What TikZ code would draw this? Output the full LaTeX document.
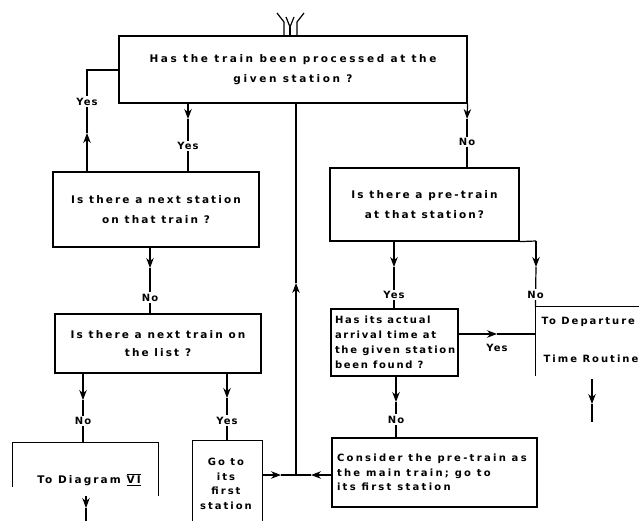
\documentclass[tikz,border=0pt]{standalone}
\usepackage{fontspec}
\setmainfont{DejaVu Sans}[LetterSpace=20]
\newfontfamily\tightfont{DejaVu Sans}[LetterSpace=10]
\newfontfamily\widefont{DejaVu Sans}[LetterSpace=25]
\newfontfamily\midfont{DejaVu Sans}[LetterSpace=17]
\newfontfamily\lwidefont{DejaVu Sans}[LetterSpace=23]
\usetikzlibrary{arrows.meta}
\begin{document}
\begin{tikzpicture}[x=1pt,y=-1pt,line width=1.2pt,
  box/.style={draw, rectangle, inner sep=0pt, align=center, font=\bfseries\fontsize{10.5}{20}\selectfont},
  lbox/.style={draw, rectangle, inner sep=0pt},
  open/.style={rectangle, inner sep=0pt},
  txt/.style={inner sep=0pt, font=\bfseries\fontsize{10.5}{15}\selectfont},
  lbl/.style={fill=white, inner sep=1.5pt, font=\tightfont\bfseries\fontsize{10}{10}\selectfont},
  arr/.style={-{Stealth[length=10pt,width=7.5pt]}}]
\useasboundingbox (0,0) rectangle (639,521);

% boxes
\node[box, minimum width=348pt, minimum height=67pt, font=\widefont\bfseries\fontsize{10.5}{20}\selectfont] (q1) at (293,69.5) {Has the train been processed at the\\given station ?};
\node[box, minimum width=206pt, minimum height=75pt] (q2) at (156,209.5) {Is there a next station\\on that train ?};
\node[box, minimum width=206pt, minimum height=59pt, font=\bfseries\fontsize{10.5}{18}\selectfont] (q3) at (158,343.5) {Is there a next train on\\the list ?};
\node[box, minimum width=189pt, minimum height=73pt] (q4) at (424.5,204.5) {Is there a pre-train\\at that station?};
\node[lbox, minimum width=127pt, minimum height=67pt] (q5) at (394.5,342.5) {};
\node[txt, anchor=west, align=left, font=\midfont\bfseries\fontsize{10}{15}\selectfont] (q5t) at ([xshift=4pt]q5.west) {Has its actual\\arrival time at\\the given station\\been found ?};
\node[lbox, minimum width=205pt, minimum height=69pt] (a1) at (434.5,472.5) {};
\node[txt, anchor=west, align=left, font=\lwidefont\bfseries\fontsize{10}{14.5}\selectfont] (a1t) at ([xshift=5pt]a1.west) {Consider the pre-train as\\the main train; go to\\its first station};

% open boxes
\node[open, minimum width=69pt, minimum height=80pt] (g) at (227.5,481) {};
\draw (g.south west) -- (g.north west) -- (g.north east) -- (g.south east);
\node[txt, align=center, font=\bfseries\fontsize{10}{14.5}\selectfont] (gt) at (226,484) {Go to\\its\\first\\station};

\node[open, minimum width=145pt, minimum height=52pt] (d) at (85.5,469) {};
\coordinate (dl) at (13,487);
\draw (d.west |- dl) -- (d.north west) -- (d.north east) -- (d.south east);
\node[txt] (dt) at (89,480) {To Diagram $\overline{\underline{\mbox{\bfseries VI}}}$};

\node[open, minimum width=103pt, minimum height=68pt] (dep) at (587.5,341) {};
\draw (dep.north east) -- (dep.north west) -- (dep.south west);
\node[txt, anchor=west, font=\bfseries\fontsize{10}{15}\selectfont] (dept1) at (541,322) {To Departure};
\node[txt, anchor=west, font=\bfseries\fontsize{10}{15}\selectfont] (dept2) at (543,359) {Time Routine};

% top incoming symbol
\coordinate (t1) at (284,22);
\coordinate (t2) at (297,22);
\coordinate (t3) at (290,27);
\draw (q1.north -| t1) -- (t1) -- (277,13);
\draw (q1.north -| t2) -- (t2) -- (304,13);
\draw (q1.north -| t3) -- (t3);
\draw (286,17) -- (t3) -- (294,17);

% left Yes loop
\coordinate (L1) at (87,133);
\coordinate (L2) at (87,70);
\draw[arr] (q2.north -| L2) -- (L1);
\draw (L1) -- node[lbl,pos=0.5]{Yes} (L2) -- (q1.west |- L2);

% Yes down
\coordinate (Y1) at (188,119);
\draw[arr] (q1.south -| Y1) -- (Y1);
\draw (Y1) -- node[lbl,pos=0.51]{Yes} (q2.north -| Y1);

% No right
\coordinate (N1) at (467,119);
\draw[arr] (q1.south east) -- (N1);
\draw (N1) -- node[lbl,pos=0.47]{No} (q4.north -| N1);

% return line
\coordinate (J) at (296,475);
\coordinate (U1) at (296,283);
\draw[arr] (J) -- (U1);
\draw (U1) -- (q1.south -| U1);

% q2 -> q3
\coordinate (N2) at (150,268);
\draw[arr] (q2.south -| N2) -- (N2);
\draw (N2) -- node[lbl,pos=0.65]{No} (q3.north -| N2);

% q3 -> diagram
\coordinate (N3) at (83,400);
\draw[arr] (q3.south -| N3) -- (N3);
\draw (N3) -- node[lbl,pos=0.5]{No} (d.north -| N3);

% q3 -> go to
\coordinate (Y3) at (227,398);
\draw[arr] (q3.south -| Y3) -- (Y3);
\draw (Y3) -- node[lbl,pos=0.53]{Yes} (g.north -| Y3);

% go to -> J
\coordinate (R1) at (281,475);
\draw[arr] (g.east |- J) -- (R1);
\draw (R1) -- (J);

% consider -> J
\coordinate (R2) at (311,475);
\draw[arr] (a1.west |- J) -- (R2);
\draw (R2) -- (J);

% q4 -> q5
\coordinate (Y4) at (394,267);
\draw[arr] (q4.south -| Y4) -- (Y4);
\draw (Y4) -- node[lbl,pos=0.67]{Yes} (q5.north -| Y4);

% q4 -> departure
\coordinate (N4a) at (536,241);
\coordinate (N4) at (536,267);
\draw (q4.south east) -- (N4a);
\draw[arr] (N4a) -- (N4);
\draw (N4) -- node[lbl,pos=0.7]{No} (dep.north west);

% q5 -> departure
\coordinate (R3) at (497,334);
\draw[arr] (q5.east |- R3) -- (R3);
\draw (R3) -- (dep.west |- R3);
\node[lbl, fill=none] (y5) at (497,348) {Yes};

% q5 -> consider
\coordinate (N5) at (396,402);
\draw[arr] (q5.south -| N5) -- (N5);
\draw (N5) -- node[lbl,pos=0.5]{No} (a1.north -| N5);

% outgoing arrows
\coordinate (dend) at (86,521);
\coordinate (dmid) at (86,508);
\draw[arr] (dend |- d.south) -- (dmid);
\draw (dmid) -- (dend);

\coordinate (p1) at (592,379);
\coordinate (p2) at (592,404);
\coordinate (p3) at (592,422);
\draw[arr] (p1) -- (p2);
\draw (p2) -- (p3);
\end{tikzpicture}
\end{document}
